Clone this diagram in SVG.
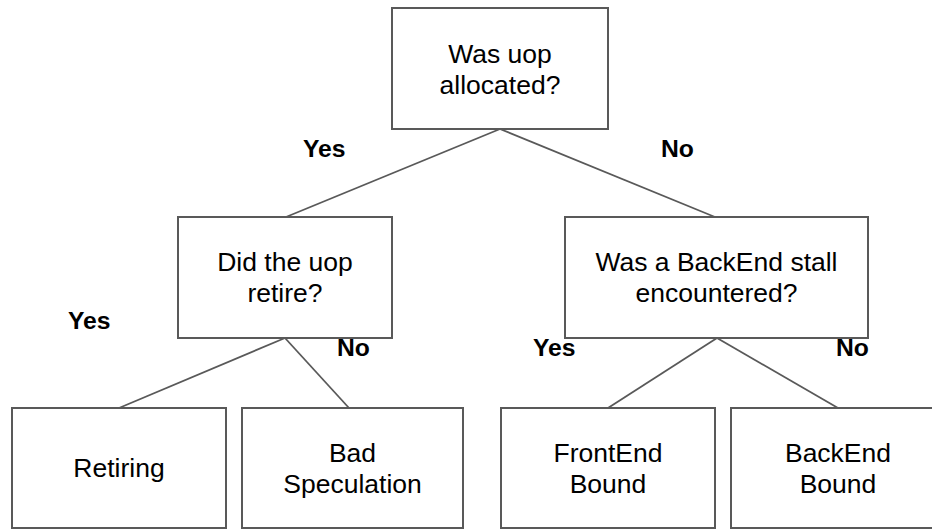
<svg xmlns="http://www.w3.org/2000/svg" width="932" height="529" viewBox="0 0 932 529">
<style>
.box{fill:#fff;stroke:#595959;stroke-width:2}
.t{font-family:"Liberation Sans",Arial,sans-serif;font-size:26.5px;fill:#000;text-anchor:middle}
.lbl{font-family:"Liberation Sans",Arial,sans-serif;font-size:24.7px;font-weight:bold;fill:#000}
.conn line{stroke:#595959;stroke-width:1.8}
</style>
<rect width="932" height="529" fill="#fff"/>
<g id="connectors" class="conn">
<line x1="500" y1="129" x2="286" y2="217"/>
<line x1="500" y1="129" x2="715" y2="217"/>
<line x1="285" y1="338" x2="119" y2="408"/>
<line x1="285" y1="338" x2="349" y2="408"/>
<line x1="717" y1="338" x2="608" y2="408"/>
<line x1="717" y1="338" x2="838" y2="408"/>
</g>
<g id="n-allocated">
<rect class="box" x="392" y="8" width="216" height="121"/>
<text class="t" x="500" y="63">Was uop</text>
<text class="t" x="500" y="94">allocated?</text>
</g>
<g id="n-retire">
<rect class="box" x="178" y="217" width="214" height="121"/>
<text class="t" x="285" y="271">Did the uop</text>
<text class="t" x="285" y="302">retire?</text>
</g>
<g id="n-backend-stall">
<rect class="box" x="565" y="217" width="303" height="121"/>
<text class="t" x="716.5" y="271">Was a BackEnd stall</text>
<text class="t" x="716.5" y="302">encountered?</text>
</g>
<g id="n-retiring">
<rect class="box" x="12" y="408" width="214" height="120"/>
<text class="t" x="119" y="477">Retiring</text>
</g>
<g id="n-bad-spec">
<rect class="box" x="242" y="408" width="221" height="120"/>
<text class="t" x="352.5" y="462">Bad</text>
<text class="t" x="352.5" y="493">Speculation</text>
</g>
<g id="n-frontend">
<rect class="box" x="501" y="408" width="214" height="120"/>
<text class="t" x="608" y="462">FrontEnd</text>
<text class="t" x="608" y="493">Bound</text>
</g>
<g id="n-backend">
<rect class="box" x="731" y="408" width="214" height="120"/>
<text class="t" x="838" y="462">BackEnd</text>
<text class="t" x="838" y="493">Bound</text>
</g>
<g id="labels">
<text class="lbl" x="303" y="157">Yes</text>
<text class="lbl" x="661" y="157">No</text>
<text class="lbl" x="68" y="329">Yes</text>
<text class="lbl" x="337" y="356">No</text>
<text class="lbl" x="533" y="356">Yes</text>
<text class="lbl" x="836" y="356">No</text>
</g>
</svg>
